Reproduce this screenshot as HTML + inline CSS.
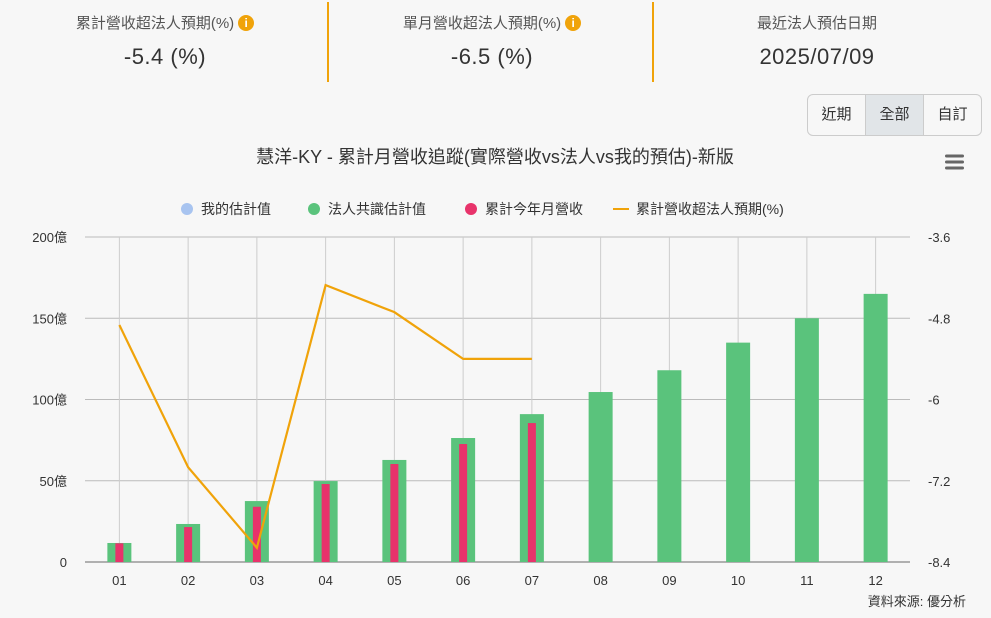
<!DOCTYPE html>
<html><head><meta charset="utf-8"><style>
body{margin:0;background:#f7f7f7;font-family:"Liberation Sans","Noto Sans CJK TC",sans-serif;color:#333;width:991px;height:618px;overflow:hidden;position:relative}
.kpi{position:absolute;top:0;width:330px;text-align:center}
.kpi .t{position:absolute;top:12px;left:0;right:0;font-size:15px;color:#555}
.kpi .v{position:absolute;top:44px;left:0;right:0;font-size:22px;color:#333;letter-spacing:0.5px}
.info{display:inline-block;width:16px;height:16px;border-radius:50%;background:#f0a30a;color:#fff;font-size:12px;line-height:16px;font-weight:bold;vertical-align:1px;margin-left:4px}
.sep{position:absolute;top:2px;width:2px;height:80px;background:#f0a30a}
.btns{position:absolute;left:807px;top:94px;height:40px;border:1px solid #ccc;border-radius:6px;display:flex;overflow:hidden;background:#f7f7f7}
.btns div{width:57px;text-align:center;line-height:40px;font-size:15px;border-right:1px solid #ccc}
.btns div:last-child{border-right:none}
</style></head><body>
<div class="kpi" style="left:0"><div class="t">累計營收超法人預期(%)<span class="info">i</span></div><div class="v">-5.4 (%)</div></div>
<div class="sep" style="left:327px"></div>
<div class="kpi" style="left:327px"><div class="t">單月營收超法人預期(%)<span class="info">i</span></div><div class="v">-6.5 (%)</div></div>
<div class="sep" style="left:652px"></div>
<div class="kpi" style="left:652px"><div class="t">最近法人預估日期</div><div class="v">2025/07/09</div></div>
<div class="btns">
<div>近期</div>
<div style="background:#e1e5e8">全部</div>
<div>自訂</div>
</div>
<svg id="c" width="991" height="618" style="position:absolute;left:0;top:0"></svg>
<script>
const categories=["01","02","03","04","05","06","07","08","09","10","11","12"];
const consensus=[11.7,23.4,37.5,49.8,62.8,76.3,91,104.6,118,135,150,165];
const actual=[11.5,21.5,34,48,60.3,72.6,85.5,null,null,null,null,null];
const beatPct=[-4.9,-7.0,-8.19,-4.31,-4.71,-5.40,-5.40,null,null,null,null,null];
const leftTicks=[0,50,100,150,200];
const rightTicks=[-8.4,-7.2,-6,-4.8,-3.6];
const NS="http://www.w3.org/2000/svg";
const svg=document.getElementById('c');
const L=85,R=910,T=237,B=562;
const bw=(R-L)/categories.length;
const xc=i=>L+bw*(i+0.5);
const yl=v=>B-(v-0)/(200-0)*(B-T);
const yr=v=>B-(v+8.4)/(4.8)*(B-T);
function mk(tag,a,txt){const e=document.createElementNS(NS,tag);for(const k in a)e.setAttribute(k,a[k]);if(txt!=null)e.textContent=txt;svg.appendChild(e);return e;}
let e;
e=mk('text',{x:495,y:163,'text-anchor':'middle','font-size':18,fill:'#333'},'慧洋-KY - 累計月營收追蹤(實際營收vs法人vs我的預估)-新版');


e=mk('g',{});


[156,162,168].forEach(y=>{const r=document.createElementNS(NS,'rect');r.setAttribute('x',945);r.setAttribute('y',y-1.5);r.setAttribute('width',19);r.setAttribute('height',3);r.setAttribute('rx',1.5);r.setAttribute('fill','#666');e.appendChild(r);});
// legend
const leg=[["我的估計值",'#a8c4f0',184,'c'],["法人共識估計值",'#5ac37c',311,'c'],["累計今年月營收",'#e8336b',468,'c'],["累計營收超法人預期(%)",'#f0a30a',615,'l']];
leg.forEach(l=>{
 if(l[3]=='c'){e=mk('circle',{cx:l[2]+3,cy:209,r:6,fill:l[1]});}else{e=mk('line',{x1:l[2]-2,x2:l[2]+14,y1:209,y2:209,stroke:l[1],'stroke-width':2});}
 
 
 e=mk('text',{x:l[2]+(l[3]=='c'?17:21),y:214,'font-size':14,fill:'#333'},l[0]);
 
 
});
// grid
leftTicks.forEach((t,i)=>{
 e=mk('line',{x1:L,x2:R,y1:yl(t),y2:yl(t),stroke:i==0?'#999':'#bbb','stroke-width':i==0?1.5:1});
 
 
 e=mk('text',{x:L-18,y:yl(t)+5,'text-anchor':'end','font-size':13,fill:'#333'},t+(t?'億':''));
 
 
});
rightTicks.forEach(t=>{
 e=mk('text',{x:928,y:yr(t)+5,'font-size':13,fill:'#333'},String(t));
 
 
});
categories.forEach((c,i)=>{
 e=mk('line',{x1:xc(i),x2:xc(i),y1:T,y2:B,stroke:'#ccc','stroke-width':1});
 
 
 e=mk('text',{x:xc(i),y:585,'text-anchor':'middle','font-size':13,fill:'#333'},c);
 
 
});
consensus.forEach((v,i)=>{
 e=mk('rect',{x:xc(i)-12,y:yl(v),width:24,height:B-yl(v),fill:'#5ac37c'});
 
 
});
actual.forEach((v,i)=>{if(v==null)return;
 e=mk('rect',{x:xc(i)-4,y:yl(v),width:8,height:B-yl(v),fill:'#e8336b'});
 
 
});
const pts=beatPct.map((v,i)=>v==null?null:xc(i)+','+yr(v)).filter(p=>p);
e=mk('polyline',{points:pts.join(' '),fill:'none',stroke:'#f0a30a','stroke-width':2.2});


e=mk('text',{x:966,y:606,'text-anchor':'end','font-size':13,fill:'#333'},'資料來源: 優分析');


</script>
</body></html>
